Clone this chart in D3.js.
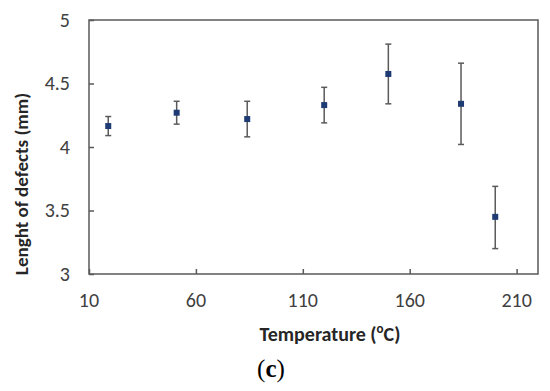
<!DOCTYPE html>
<html>
<head>
<meta charset="utf-8">
<script src="https://cdn.jsdelivr.net/npm/d3@7"></script>
<style>
  body { margin: 0; background: #fff; }
  .sans { font-family: Carlito, Calibri, "Liberation Sans", "DejaVu Sans", sans-serif; }
  .serif { font-family: "Liberation Serif", "DejaVu Serif", serif; }
</style>
</head>
<body>
<div id="chart"></div>
<script>
var temps = [19, 51, 84, 120, 150, 184, 200];
var lengths = [4.165, 4.27, 4.22, 4.33, 4.575, 4.34, 3.45];
var errLow = [4.09, 4.18, 4.08, 4.19, 4.34, 4.02, 3.2];
var errHigh = [4.24, 4.36, 4.36, 4.47, 4.81, 4.66, 3.69];
var xTicks = [10, 60, 110, 160, 210];
var yTicks = [3, 3.5, 4, 4.5, 5];

var width = 550, height = 391;
var plotL = 89, plotR = 538, plotT = 20, plotB = 274;
var axisColor = "#595959";

var svg = d3.select("#chart").append("svg")
    .attr("width", width)
    .attr("height", height);

var x = d3.scaleLinear().domain([10, 220]).range([plotL, plotR]);
var y = d3.scaleLinear().domain([3, 5]).range([plotB, plotT]);

// frame
svg.append("rect")
    .attr("x", plotL).attr("y", plotT)
    .attr("width", plotR - plotL).attr("height", plotB - plotT)
    .attr("fill", "none").attr("stroke", axisColor).attr("stroke-width", 1.5);

// axes with inward ticks
var xAxis = svg.append("g")
    .attr("transform", "translate(0," + plotB + ")")
    .call(d3.axisTop(x).tickValues(xTicks).tickSize(5).tickFormat(""));
xAxis.select(".domain").remove();
xAxis.selectAll("line").attr("stroke", axisColor).attr("stroke-width", 1.5);

var yAxis = svg.append("g")
    .attr("transform", "translate(" + plotL + ",0)")
    .call(d3.axisRight(y).tickValues(yTicks).tickSize(5).tickFormat(""));
yAxis.select(".domain").remove();
yAxis.selectAll("line").attr("stroke", axisColor).attr("stroke-width", 1.5);

// tick labels
svg.selectAll(".xlab").data(xTicks).enter().append("text")
    .attr("class", "sans")
    .attr("x", function (d) { return x(d); })
    .attr("y", 307)
    .attr("text-anchor", "middle")
    .attr("font-size", 20)
    .attr("fill", "#404040")
    .text(function (d) { return d; });

svg.selectAll(".ylab").data(yTicks).enter().append("text")
    .attr("class", "sans")
    .attr("x", 70)
    .attr("y", function (d) { return y(d) + 6.5; })
    .attr("text-anchor", "end")
    .attr("font-size", 20)
    .attr("fill", "#404040")
    .text(function (d) { return d; });

// error bars
var pts = temps.map(function (t, i) {
    return { t: t, v: lengths[i], lo: errLow[i], hi: errHigh[i] };
});

var eb = svg.selectAll(".eb").data(pts).enter().append("g")
    .attr("stroke", "#5a5a5a").attr("stroke-width", 1.5);
eb.append("line")
    .attr("x1", function (d) { return x(d.t); })
    .attr("x2", function (d) { return x(d.t); })
    .attr("y1", function (d) { return y(d.lo); })
    .attr("y2", function (d) { return y(d.hi); });
eb.append("line")
    .attr("x1", function (d) { return x(d.t) - 3; })
    .attr("x2", function (d) { return x(d.t) + 3; })
    .attr("y1", function (d) { return y(d.hi); })
    .attr("y2", function (d) { return y(d.hi); });
eb.append("line")
    .attr("x1", function (d) { return x(d.t) - 3; })
    .attr("x2", function (d) { return x(d.t) + 3; })
    .attr("y1", function (d) { return y(d.lo); })
    .attr("y2", function (d) { return y(d.lo); });

// markers
svg.selectAll(".pt").data(pts).enter().append("rect")
    .attr("x", function (d) { return x(d.t) - 3; })
    .attr("y", function (d) { return y(d.v) - 3; })
    .attr("width", 6).attr("height", 6)
    .attr("fill", "#1f3b73");

// axis titles
var xt = svg.append("text")
    .attr("class", "sans")
    .attr("x", 330).attr("y", 341)
    .attr("text-anchor", "middle")
    .attr("font-size", 20).attr("font-weight", "bold")
    .attr("fill", "#262626");
xt.append("tspan").text("Temperature (");
xt.append("tspan").attr("font-size", 13).attr("dy", -8).text("o");
xt.append("tspan").attr("dy", 8).text("C)");

svg.append("text")
    .attr("class", "sans")
    .attr("transform", "translate(28,184) rotate(-90)")
    .attr("text-anchor", "middle")
    .attr("font-size", 19).attr("font-weight", "bold")
    .attr("fill", "#262626")
    .text("Lenght  of defects (mm)");

var cap = svg.append("text")
    .attr("class", "serif")
    .attr("x", 271).attr("y", 377)
    .attr("text-anchor", "middle")
    .attr("font-size", 25)
    .attr("fill", "#000");
cap.append("tspan").text("(");
cap.append("tspan").attr("font-weight", "bold").text("c");
cap.append("tspan").text(")");
</script>
</body>
</html>
